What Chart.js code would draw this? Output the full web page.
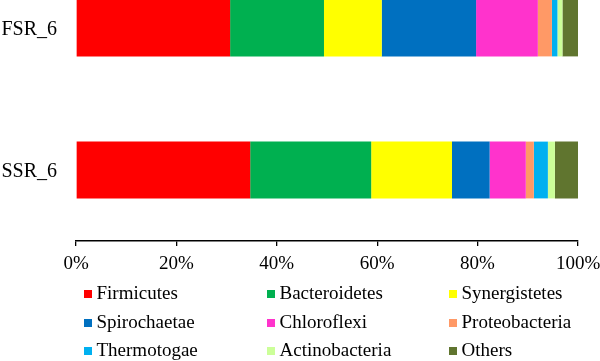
<!DOCTYPE html>
<html>
<head>
<meta charset="utf-8">
<script src="https://cdn.jsdelivr.net/npm/chart.js@4.4.0/dist/chart.umd.min.js"></script>
<style>
  @font-face { font-family: 'SerifAlias'; src: local('Liberation Serif'), local('LiberationSerif'), local('LiberationSerif-Regular'); }
  html, body { margin: 0; padding: 0; background: #fff; }
  #wrap { position: relative; width: 600px; height: 361px; overflow: hidden; }
  #chart { position: absolute; left: 0; top: -43px; }
</style>
</head>
<body>
<div id="wrap">
  <canvas id="chart" width="600" height="404"></canvas>
</div>
<script>
// samples and phyla
var categories = ['FSR_6', 'SSR_6'];
var phyla = ['Firmicutes', 'Bacteroidetes', 'Synergistetes', 'Spirochaetae', 'Chloroflexi',
             'Proteobacteria', 'Thermotogae', 'Actinobacteria', 'Others'];
var colors = ['#FF0000', '#00B050', '#FFFF00', '#0070C0', '#FF33CC',
              '#FF9966', '#00B0F0', '#CCFF99', '#60752F'];

// relative abundance (%)
var fsr6 = [30.7, 18.7, 11.5, 18.8, 12.3, 2.8, 1.1, 1.0, 3.1];
var ssr6 = [34.7, 24.1, 16.1, 7.5, 7.2, 1.6, 2.8, 1.4, 4.6];

var xTicks = [0, 20, 40, 60, 80, 100];

var datasets = [];
for (var i = 0; i < phyla.length; i++) {
  datasets.push({
    label: phyla[i],
    data: [fsr6[i], ssr6[i]],
    backgroundColor: colors[i],
    borderWidth: 0,
    barPercentage: 0.4,
    categoryPercentage: 1
  });
}

var canvasTop = -43;
var serif = "'Liberation Serif', SerifAlias, 'Times New Roman', serif";

var myChart = new Chart(document.getElementById('chart'), {
  type: 'bar',
  data: { labels: categories, datasets: datasets },
  options: {
    indexAxis: 'y',
    responsive: false,
    devicePixelRatio: 1,
    animation: false,
    layout: { padding: { top: 0, right: 22, bottom: 90, left: 0 } },
    plugins: {
      legend: { display: false },
      tooltip: { enabled: false }
    },
    scales: {
      x: {
        stacked: true,
        min: 0,
        max: 100,
        afterBuildTicks: function (scale) {
          scale.ticks = xTicks.map(function (v) { return { value: v }; });
        },
        afterFit: function (scale) {
          scale.height = 30;
          scale.paddingLeft = 0;
          scale.paddingRight = 0;
        },
        grid: { display: true, drawOnChartArea: false, drawTicks: true, tickLength: 5, color: '#000', lineWidth: 1.3 },
        border: { display: true, color: '#000', width: 1.5 },
        ticks: { display: false }
      },
      y: {
        stacked: true,
        afterFit: function (scale) {
          scale.width = 76;
          scale.paddingTop = 0;
          scale.paddingBottom = 0;
        },
        grid: { display: false, drawTicks: false },
        border: { display: false },
        ticks: { display: false }
      }
    }
  }
});

var wrap = document.getElementById('wrap');

// an absolutely placed box; the text inside it stays in normal flow
function makeBox(left, top, width) {
  var b = document.createElement('div');
  b.style.position = 'absolute';
  b.style.left = left + 'px';
  b.style.top = top + 'px';
  b.style.width = width + 'px';
  b.style.fontFamily = serif;
  b.style.color = '#000';
  wrap.appendChild(b);
  return b;
}

// x tick labels, placed from the x scale
var xs = myChart.scales.x;
var axisY = xs.top + canvasTop;
xTicks.forEach(function (v) {
  var b = makeBox(0, axisY + 12, 600);
  var d = document.createElement('div');
  d.style.fontSize = '19px';
  d.style.lineHeight = '20px';
  var s = document.createElement('span');
  s.textContent = v + '%';
  d.appendChild(s);
  b.appendChild(d);
  d.style.marginLeft = (xs.getPixelForValue(v) - s.offsetWidth / 2) + 'px';
});

// y category labels, placed from the y scale
var ys = myChart.scales.y;
categories.forEach(function (c, idx) {
  var b = makeBox(0, ys.getPixelForValue(idx) + canvasTop - 11, 57);
  var d = document.createElement('div');
  d.style.fontSize = '20px';
  d.style.lineHeight = '22px';
  d.style.textAlign = 'right';
  d.textContent = c;
  b.appendChild(d);
});

// legend, 3 columns
var colW = [183, 182, 150];
var leg = makeBox(84, 283, 516);
for (var r = 0; r < 3; r++) {
  var row = document.createElement('div');
  row.style.height = '28.5px';
  row.style.fontSize = '19px';
  row.style.lineHeight = '20px';
  for (var c = 0; c < 3; c++) {
    var idx = r * 3 + c;
    var cell = document.createElement('div');
    cell.style.display = 'inline-block';
    cell.style.width = colW[c] + 'px';
    cell.style.verticalAlign = 'top';
    var sq = document.createElement('span');
    sq.style.display = 'inline-block';
    sq.style.width = '8px';
    sq.style.height = '8px';
    sq.style.marginRight = '4.5px';
    sq.style.verticalAlign = '1px';
    sq.style.background = colors[idx];
    cell.appendChild(sq);
    cell.appendChild(document.createTextNode(phyla[idx]));
    row.appendChild(cell);
  }
  leg.appendChild(row);
}
</script>
</body>
</html>
